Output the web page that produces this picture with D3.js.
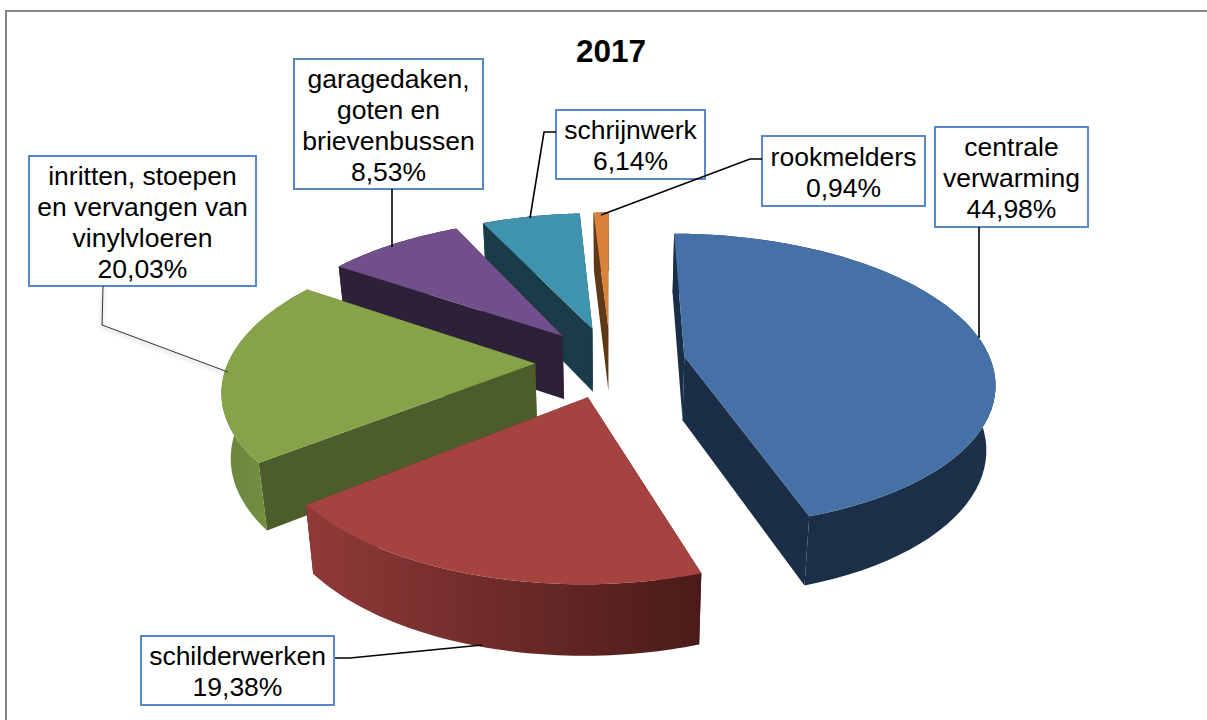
<!DOCTYPE html>
<html>
<head>
<meta charset="utf-8">
<script src="https://cdn.jsdelivr.net/npm/d3@7"></script>
<style>
  body { margin: 0; background: #fff; overflow: hidden; }
  text { font-family: 'Liberation Sans', Arial, sans-serif; fill: #000; }
</style>
</head>
<body>
<svg id="chart" width="1207" height="720"></svg>
<script>
// Data
var title = '2017'
var categories = ['centrale verwarming', 'schilderwerken', 'inritten, stoepen en vervangen van vinylvloeren', 'garagedaken, goten en brievenbussen', 'schrijnwerk', 'rookmelders']
var shares = [44.98, 19.38, 20.03, 8.53, 6.14, 0.94]
var shareLabels = ['44,98%', '19,38%', '20,03%', '8,53%', '6,14%', '0,94%']

// Label wrapping as in the picture
var labelLines = [
  ['centrale', 'verwarming'],
  ['schilderwerken'],
  ['inritten, stoepen', 'en vervangen van', 'vinylvloeren'],
  ['garagedaken,', 'goten en', 'brievenbussen'],
  ['schrijnwerk'],
  ['rookmelders']
]

// Colours
var topColors = ['#4671a6', '#a54341', '#87a34a', '#714f8b', '#3f93ae', '#d8823a']
var wallColors = ['#1b2e47', '#5b2221', '#4c5c2b', '#2c2138', '#1a3c49', '#5f3916']
var arcWallStops = [
  ['#1c3049', '#1b2e47'],
  ['#903a38', '#4a1b1a'],
  ['#7a9745', '#6a853c'],
  ['#2c2138', '#2c2138'],
  ['#1a3c49', '#1a3c49'],
  ['#5f3916', '#5f3916']
]

// Label box layout: x0, y0, x1, y1
var boxes = [
  [935, 127, 1088, 227],
  [141, 636, 334, 705],
  [29, 156, 256, 286],
  [294, 59, 483, 189],
  [556, 110, 705, 179],
  [762, 136, 925, 206]
]

// Leader lines
var leaders = [
  [[979, 227], [979, 338]],
  [[335, 658], [350, 658], [482, 645]],
  [[103, 286], [102, 325], [228, 372]],
  [[392, 189], [392, 247]],
  [[556, 132], [544, 132], [530, 218]],
  [[762, 159], [750, 159], [601, 215]]
]

// Perspective set up
var cx = 610.5
var vanishY = -532
var planeScale = 894
var depthFalloff = 6.2
var radiusPx = 307
var explode = 0.245
var thickness = 64
var bottomShrink = 0.976

var svg = d3.select('#chart')
var defs = svg.append('defs')

svg
  .append('rect')
  .attr('x', 6)
  .attr('y', 11)
  .attr('width', 1300)
  .attr('height', 800)
  .attr('fill', '#fff')
  .attr('stroke', '#868686')
  .attr('stroke-width', 2)

svg
  .append('text')
  .text(title)
  .attr('x', 611)
  .attr('y', 62)
  .attr('text-anchor', 'middle')
  .attr('font-size', '31.5px')
  .style('font-weight', 'bold')

var pie = d3
  .pie()
  .sort(null)
  .value(function(d) {
    return d
  })

// ground plane (x right, y away from viewer) to screen, level 0 top, 1 bottom
function project(x, y, level) {
  var w = 1 + y / depthFalloff
  var px = cx + (radiusPx * x) / w
  var py = vanishY + planeScale / w
  if (level === 1) {
    px = cx + (px - cx) * bottomShrink
    py = py + thickness / Math.sqrt(w)
  }
  return [px, py]
}

var path = d3.line()

var slices = pie(shares)

var layer = svg.append('g')

slices.forEach(function(d, i) {
  var mid = (d.startAngle + d.endAngle) / 2
  var ox = explode * Math.sin(mid)
  var oy = explode * Math.cos(mid)

  function rim(angle, level) {
    return project(ox + Math.sin(angle), oy + Math.cos(angle), level)
  }
  var steps = d3.range(0, 61).map(function(k) {
    return d.startAngle + ((d.endAngle - d.startAngle) * k) / 60
  })

  var apexTop = project(ox, oy, 0)
  var apexBottom = project(ox, oy, 1)

  d.draw = function() {
    var g = layer.append('g')

    // radial walls
    g.append('path')
      .attr('d', path([apexTop, rim(d.startAngle, 0), rim(d.startAngle, 1), apexBottom]) + 'Z')
      .attr('fill', wallColors[i])
    g.append('path')
      .attr('d', path([apexTop, rim(d.endAngle, 0), rim(d.endAngle, 1), apexBottom]) + 'Z')
      .attr('fill', wallColors[i])

    // outer wall
    var topRim = steps.map(function(a) {
      return rim(a, 0)
    })
    var bottomRim = steps
      .map(function(a) {
        return rim(a, 1)
      })
      .reverse()
    var xs = d3.extent(topRim, function(p) {
      return p[0]
    })
    var grad = defs
      .append('linearGradient')
      .attr('id', 'wall-' + i)
      .attr('gradientUnits', 'userSpaceOnUse')
      .attr('x1', i === 1 ? xs[0] : xs[1])
      .attr('x2', i === 1 ? xs[1] : xs[0])
      .attr('y1', 0)
      .attr('y2', 0)
    grad.append('stop').attr('offset', 0).attr('stop-color', arcWallStops[i][0])
    grad.append('stop').attr('offset', 1).attr('stop-color', arcWallStops[i][1])
    g.append('path')
      .attr('d', path(topRim.concat(bottomRim)) + 'Z')
      .attr('fill', 'url(#wall-' + i + ')')

    // top face
    g.append('path')
      .attr('d', path([apexTop].concat(topRim)) + 'Z')
      .attr('fill', topColors[i])
  }
})

// far slices first so the near ones cover them
;[5, 4, 3, 2, 1, 0].forEach(function(i) {
  slices[i].draw()
})

// Label boxes
var labels = svg
  .selectAll('.label')
  .data(categories)
  .enter()
  .append('g')
  .attr('class', 'label')

labels
  .append('rect')
  .attr('x', function(d, i) {
    return boxes[i][0]
  })
  .attr('y', function(d, i) {
    return boxes[i][1]
  })
  .attr('width', function(d, i) {
    return boxes[i][2] - boxes[i][0]
  })
  .attr('height', function(d, i) {
    return boxes[i][3] - boxes[i][1]
  })
  .attr('fill', '#fff')
  .attr('stroke', '#5b87c4')
  .attr('stroke-width', 2)

labels.each(function(d, i) {
  var lines = labelLines[i].concat([shareLabels[i]])
  var box = boxes[i]
  var lineHeight = 31
  var firstBaseline = (box[1] + box[3]) / 2 - ((lines.length - 1) * lineHeight) / 2 + 10
  d3.select(this)
    .selectAll('text')
    .data(lines)
    .enter()
    .append('text')
    .text(function(t) {
      return t
    })
    .attr('x', (box[0] + box[2]) / 2)
    .attr('y', function(t, k) {
      return firstBaseline + k * lineHeight
    })
    .attr('text-anchor', 'middle')
    .attr('font-size', '26.5px')
})

// Leader lines, the green one is thinner and has a soft shadow
svg
  .selectAll('.leader')
  .data(leaders)
  .enter()
  .append('path')
  .attr('class', 'leader')
  .attr('d', function(d) {
    return path(d)
  })
  .attr('fill', 'none')
  .attr('stroke', function(d, i) {
    return i === 2 ? '#333' : '#000'
  })
  .attr('stroke-width', function(d, i) {
    return i === 2 ? 1 : 1.6
  })
  .style('filter', function(d, i) {
    return i === 2 ? 'drop-shadow(0px 2px 2px rgba(0,0,0,0.35))' : null
  })
</script>
</body>
</html>
